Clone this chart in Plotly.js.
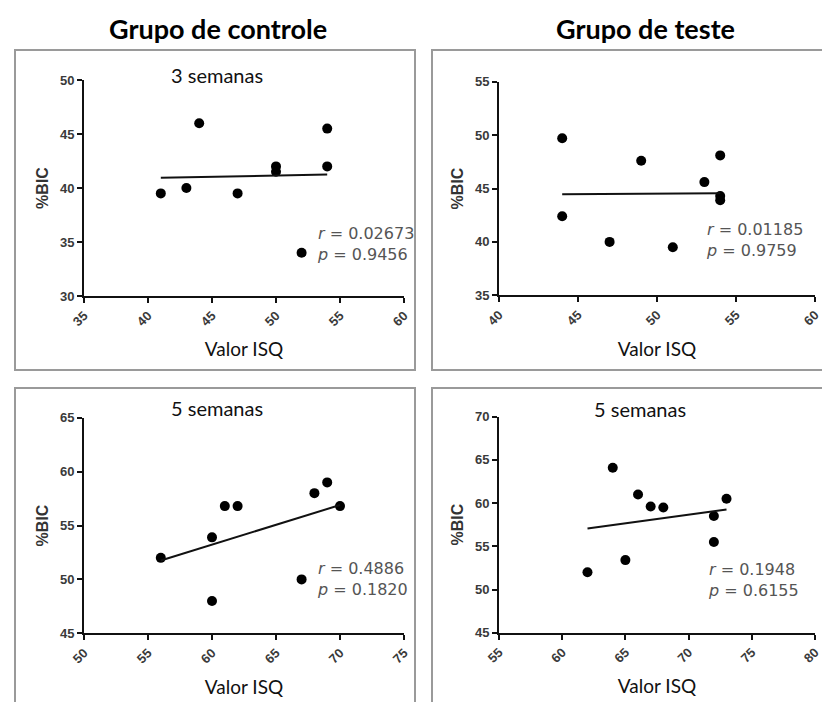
<!DOCTYPE html>
<html>
<head>
<meta charset="utf-8">
<script src="https://cdn.plot.ly/plotly-3.0.1.min.js"></script>
<style>html,body{margin:0;padding:0;background:#fff;}#chart{width:822px;height:702px;}</style>
</head>
<body>
<div id="chart"></div>
<script>
// ---- data ----
const groupTitles = ["Grupo de controle", "Grupo de teste"];
const periodLabels = ["3 semanas", "5 semanas", "5 semanas"];
const xTitle = "Valor ISQ";
const yTitle = "%BIC";

// Grupo de controle, 3 semanas
const ctrl3X = [41, 43, 44, 47, 50, 50, 52, 54, 54];
const ctrl3Y = [39.5, 40, 46, 39.5, 42, 41.5, 34, 45.5, 42];
const ctrl3FitX = [41, 54];
const ctrl3FitY = [40.95, 41.25];
const ctrl3Stats = ["0.02673", "0.9456"];

// Grupo de teste, 3 semanas
const test3X = [44, 44, 47, 49, 51, 53, 54, 54, 54];
const test3Y = [49.7, 42.4, 40, 47.6, 39.5, 45.6, 48.1, 44.3, 43.9];
const test3FitX = [44, 54];
const test3FitY = [44.45, 44.55];
const test3Stats = ["0.01185", "0.9759"];

// Grupo de controle, 5 semanas
const ctrl5X = [56, 60, 60, 61, 62, 67, 68, 69, 70];
const ctrl5Y = [52, 53.9, 48, 56.8, 56.8, 50, 58, 59, 56.8];
const ctrl5FitX = [56, 70];
const ctrl5FitY = [51.75, 56.9];
const ctrl5Stats = ["0.4886", "0.1820"];

// Grupo de teste, 5 semanas
const test5X = [62, 64, 65, 66, 67, 68, 72, 72, 73];
const test5Y = [52, 64.1, 53.4, 61, 59.6, 59.5, 58.5, 55.5, 60.5];
const test5FitX = [62, 73];
const test5FitY = [57.05, 59.25];
const test5Stats = ["0.1948", "0.6155"];

const xRanges = [[35, 60], [40, 60], [50, 75], [55, 80]];
const yRanges = [[30, 50], [35, 55], [45, 65], [45, 70]];

// ---- layout helpers (pixels -> paper) ----
const W = 822, H = 702;
const px = x => x / W;
const py = y => 1 - y / H;

const panels = [
  {X: ctrl3X, Y: ctrl3Y, fx: ctrl3FitX, fy: ctrl3FitY, st: ctrl3Stats, dom: [84, 404, 80, 296], txt: [315, 244]},
  {X: test3X, Y: test3Y, fx: test3FitX, fy: test3FitY, st: test3Stats, dom: [499, 815, 81.7, 295.3], txt: [704, 240]},
  {X: ctrl5X, Y: ctrl5Y, fx: ctrl5FitX, fy: ctrl5FitY, st: ctrl5Stats, dom: [84, 404, 417.7, 633.3], txt: [315, 579]},
  {X: test5X, Y: test5Y, fx: test5FitX, fy: test5FitY, st: test5Stats, dom: [499, 815, 416.7, 632.7], txt: [706, 580]}
];

const traces = [];
const layout = {
  width: W, height: H,
  margin: {l: 0, r: 0, t: 0, b: 0},
  paper_bgcolor: "#fff", plot_bgcolor: "rgba(0,0,0,0)",
  showlegend: false,
  font: {family: "Liberation Sans, Arial, sans-serif", color: "#333"},
  shapes: [], annotations: []
};

const tickFont = {family: "Liberation Sans, Arial, sans-serif", size: 13, color: "#3a3a3a", weight: "bold"};

panels.forEach((p, i) => {
  const n = i === 0 ? "" : String(i + 1);
  const xa = "x" + n, ya = "y" + n;
  traces.push({
    type: "scatter", mode: "markers", x: p.X, y: p.Y, xaxis: xa, yaxis: ya,
    marker: {color: "#000", size: 10}, cliponaxis: false, hoverinfo: "x+y"
  });
  traces.push({
    type: "scatter", mode: "lines", x: p.fx, y: p.fy, xaxis: xa, yaxis: ya,
    line: {color: "#111", width: 2}, hoverinfo: "skip"
  });
  layout["xaxis" + n] = {
    domain: [px(p.dom[0]), px(p.dom[1])], anchor: ya, range: xRanges[i],
    dtick: 5, tick0: 0, showgrid: false, zeroline: false,
    showline: true, linecolor: "#111", linewidth: 2,
    ticks: "outside", ticklen: 5, tickwidth: 2, tickcolor: "#111",
    tickangle: -45, tickfont: tickFont, ticklabeloverflow: "allow", fixedrange: true,
    title: {text: xTitle, standoff: 15, font: {family: "Lato, Carlito, sans-serif", size: 19, color: "#111"}}
  };
  layout["yaxis" + n] = {
    domain: [py(p.dom[3]), py(p.dom[2])], anchor: xa, range: yRanges[i],
    dtick: 5, tick0: 0, showgrid: false, zeroline: false,
    showline: true, linecolor: "#111", linewidth: 2,
    ticks: "outside", ticklen: 5, tickwidth: 2, tickcolor: "#111",
    tickfont: tickFont, ticklabeloverflow: "allow", fixedrange: true,
    title: {text: yTitle, standoff: 7, font: {family: "Liberation Sans, Arial, sans-serif", size: 16, color: "#333", weight: "bold"}}
  };
  layout.annotations.push({xref: "paper", yref: "paper", x: px(p.txt[0]), y: py(p.txt[1]), xanchor: "left", yanchor: "middle",
    align: "left", text: "<i>r</i> = " + p.st[0] + "<br><i>p</i> = " + p.st[1], showarrow: false,
    font: {family: "DejaVu Sans, sans-serif", size: 16, color: "#555"}});
});

// panel frames
const frames = [[15, 415, 50, 370], [432, 832, 50, 370], [15, 415, 388, 712], [432, 832, 388, 712]];
frames.forEach(f => layout.shapes.push({type: "rect", xref: "paper", yref: "paper",
  x0: px(f[0]), x1: px(f[1]), y0: py(f[3]), y1: py(f[2]), line: {color: "#9a9a9a", width: 2}, layer: "below"}));

// group titles
const titleFont = {family: "Lato, Carlito, sans-serif", size: 27, color: "#000", weight: "bold"};
layout.annotations.push({xref: "paper", yref: "paper", x: px(218), y: py(28), xanchor: "center", yanchor: "middle", text: "<b>" + groupTitles[0] + "</b>", showarrow: false, font: titleFont});
layout.annotations.push({xref: "paper", yref: "paper", x: px(645), y: py(28), xanchor: "center", yanchor: "middle", text: "<b>" + groupTitles[1] + "</b>", showarrow: false, font: titleFont});

// period labels
const perFont = {family: "Lato, Carlito, sans-serif", size: 20, color: "#111"};
[[217, 75], [217, 408], [640, 409]].forEach((pos, k) => layout.annotations.push({xref: "paper", yref: "paper",
  x: px(pos[0]), y: py(pos[1]), xanchor: "center", yanchor: "middle", text: periodLabels[k], showarrow: false, font: perFont}));

Plotly.newPlot("chart", traces, layout, {staticPlot: true, displayModeBar: false});
</script>
</body>
</html>
